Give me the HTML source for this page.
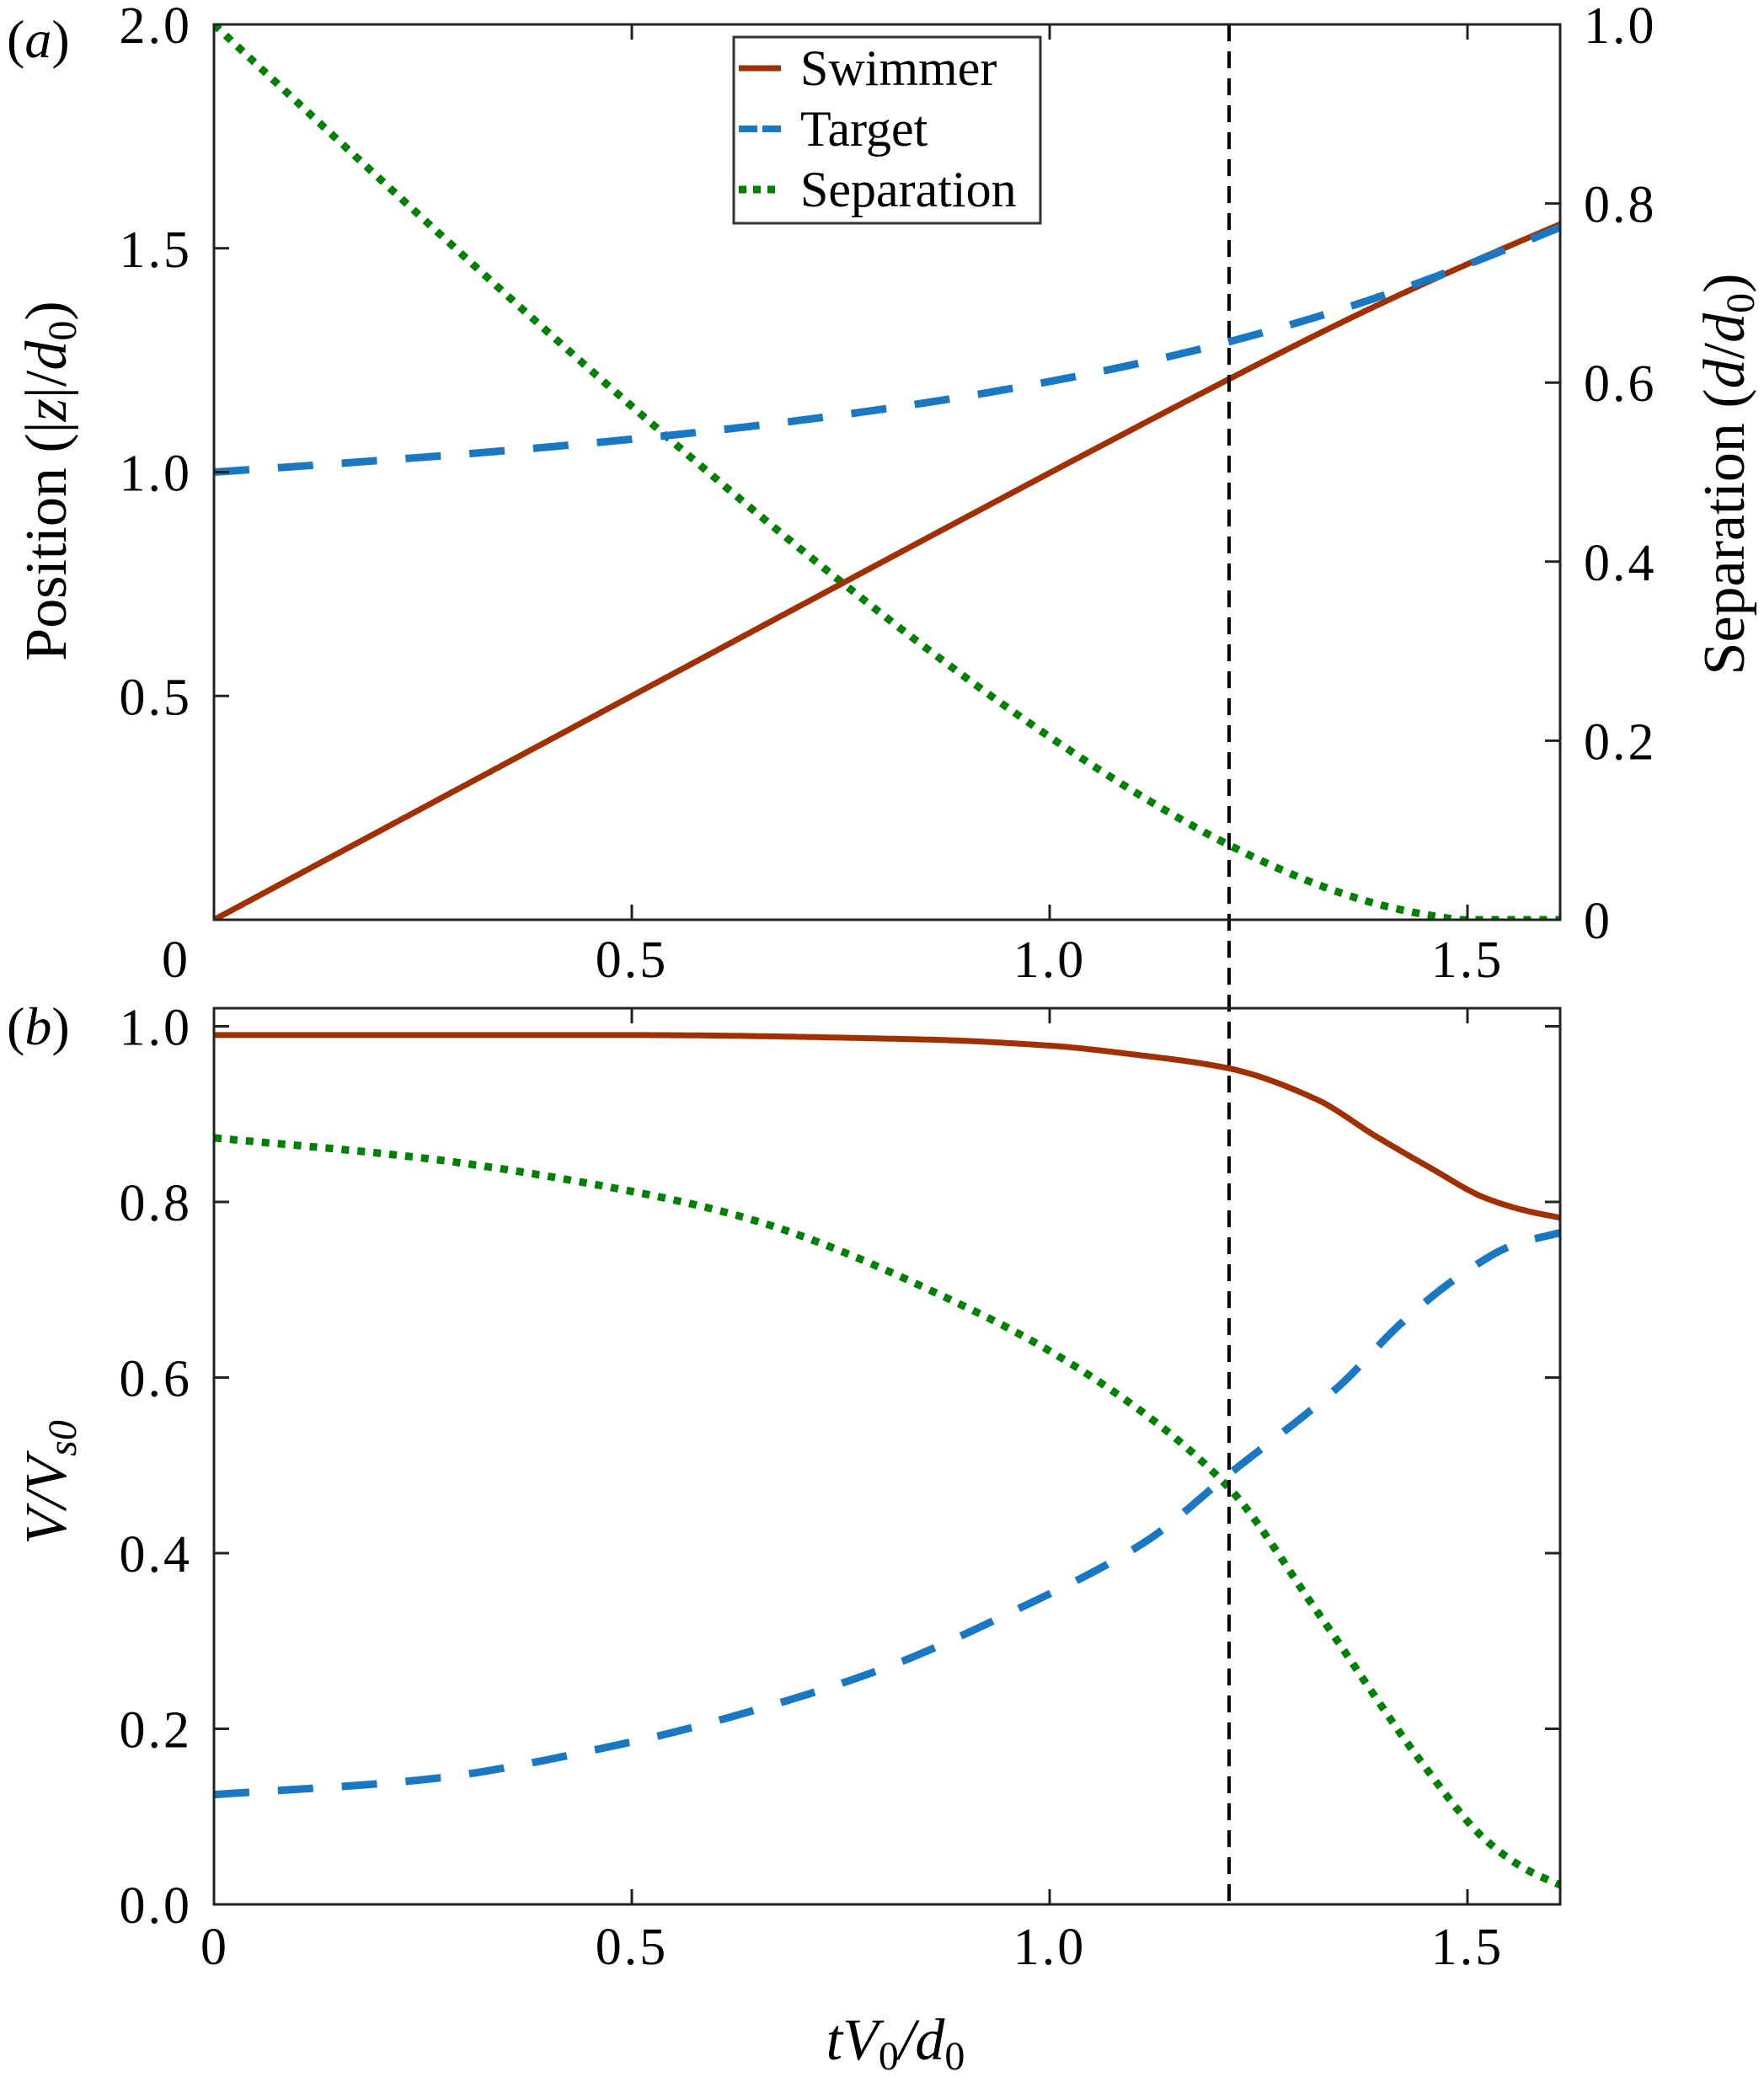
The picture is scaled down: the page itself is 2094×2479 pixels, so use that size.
<!DOCTYPE html>
<html><head><meta charset="utf-8">
<style>
html,body{margin:0;padding:0;background:#fff;}
svg{display:block;font-family:"Liberation Serif","Times New Roman",Times,serif;}
svg text{font-family:"Liberation Serif","Times New Roman",Times,serif;fill:#000;}
</style></head>
<body>
<svg id="s" width="2094" height="2479" viewBox="0 0 2094 2479" xmlns="http://www.w3.org/2000/svg" font-family="Liberation Serif, Times New Roman, serif">
<defs>
<clipPath id="ca"><rect x="254" y="29" width="1598" height="1063"/></clipPath>
<clipPath id="cb"><rect x="254" y="1197" width="1598" height="1064"/></clipPath>
</defs>
<g id="curves"></g>
<line x1="1459" y1="29" x2="1459" y2="2261" stroke="#000" stroke-width="4" stroke-dasharray="20,12"/>
<rect x="254" y="29" width="1598" height="1063" fill="none" stroke="#222" stroke-width="3"/>
<rect x="254" y="1197" width="1598" height="1064" fill="none" stroke="#222" stroke-width="3"/>
<g id="ticks" stroke="#222" stroke-width="3"></g>
<g id="labels" font-size="62" font-family="Liberation Serif, serif"></g>
<rect x="871" y="44" width="364" height="221" fill="#fff" stroke="#333" stroke-width="3"/>
<line x1="877" y1="81" x2="927" y2="81" stroke="#a03000" stroke-width="7"/>
<line x1="877" y1="153" x2="927" y2="153" stroke="#1a78c2" stroke-width="8" stroke-dasharray="22,6"/>
<line x1="877" y1="225" x2="927" y2="225" stroke="#008000" stroke-width="9" stroke-dasharray="9,8"/>
<g font-family="Liberation Serif, serif">
<text x="950" y="101" font-size="60">Swimmer</text>
<text x="950" y="173" font-size="60">Target</text>
<text x="950" y="245" font-size="60">Separation</text>
<text x="8" y="68" font-size="64">(<tspan font-style="italic">a</tspan>)</text>
<text x="8" y="1240" font-size="64">(<tspan font-style="italic">b</tspan>)</text>
<text transform="translate(78,571) rotate(-90)" text-anchor="middle" font-size="70">Position (|<tspan font-style="italic">z</tspan>|/<tspan font-style="italic">d</tspan><tspan font-size="48" dy="12">0</tspan><tspan dy="-12">)</tspan></text>
<text transform="translate(2070,563) rotate(-90)" text-anchor="middle" font-size="70">Separation (<tspan font-style="italic">d</tspan>/<tspan font-style="italic">d</tspan><tspan font-size="48" dy="12">0</tspan><tspan dy="-12">)</tspan></text>
<text transform="translate(78,1760) rotate(-90)" text-anchor="middle" font-size="70" font-style="italic">V/V<tspan font-size="48" dy="12">s0</tspan></text>
<text x="1063" y="2445" text-anchor="middle" font-size="70" font-style="italic">tV<tspan font-size="48" dy="12" font-style="normal">0</tspan><tspan dy="-12">/d</tspan><tspan font-size="48" dy="12" font-style="normal">0</tspan></text>
</g>
</svg>
<script>
(function(){
var NS="http://www.w3.org/2000/svg";
function el(tag,attrs,parent,txt){var e=document.createElementNS(NS,tag);for(var k in attrs)e.setAttribute(k,attrs[k]);if(txt!==undefined)e.textContent=txt;parent.appendChild(e);return e;}
function X(t){return 254+t*992;}
function Ya(v){return 1092-v*531.5;}
function Ys(d){return 1092-d*1063;}
function Yb(v){return 2261-v*1042.5;}
function pchip(pts){
 var n=pts.length,xs=pts.map(p=>p[0]),ys=pts.map(p=>p[1]),d=[],m=[];
 for(var i=0;i<n-1;i++)d.push((ys[i+1]-ys[i])/(xs[i+1]-xs[i]));
 m[0]=d[0];m[n-1]=d[n-2];
 for(i=1;i<n-1;i++){m[i]=(d[i-1]*d[i]<=0)?0:2/(1/d[i-1]+1/d[i]);}
 return function(x){var i=0;while(i<n-2&&x>xs[i+1])i++;var h=xs[i+1]-xs[i],t=(x-xs[i])/h;
  var h00=2*t*t*t-3*t*t+1,h10=t*t*t-2*t*t+t,h01=-2*t*t*t+3*t*t,h11=t*t*t-t*t;
  return h00*ys[i]+h10*h*m[i]+h01*ys[i+1]+h11*h*m[i+1];};
}
var vs=pchip([[0,0.99],[0.5,0.99],[0.85,0.985],[1.0,0.978],[1.1,0.968],[1.215,0.952],[1.319,0.917],[1.39,0.875],[1.457,0.838],[1.52,0.805],[1.57,0.79],[1.611,0.782]]);
var vt=pchip([[0,0.125],[0.25,0.142],[0.5,0.185],[0.65,0.222],[0.805,0.27],[0.959,0.335],[1.113,0.412],[1.216,0.491],[1.345,0.589],[1.422,0.663],[1.491,0.716],[1.555,0.751],[1.611,0.765]]);
var vg=pchip([[0,0.873],[0.25,0.85],[0.5,0.812],[0.65,0.778],[0.907,0.677],[1.061,0.594],[1.212,0.477],[1.319,0.335],[1.448,0.158],[1.52,0.075],[1.57,0.04],[1.611,0.022]]);
var N=700,T=1.611,dt=T/N,ps=0,pt=1,A1=[],A2=[],A3=[],B1=[],B2=[],B3=[];
for(var i=0;i<=N;i++){var t=i*dt;
 if(i>0){var t0=t-dt;ps+=(vs(t0)+vs(t))/2*dt/0.99;pt+=(vt(t0)+vt(t))/2*dt;}
 var sep=Math.max(0,pt-ps);
 A1.push(X(t).toFixed(1)+","+Ya(ps).toFixed(1));
 A2.push(X(t).toFixed(1)+","+Ya(pt).toFixed(1));
 A3.push(X(t).toFixed(1)+","+Ys(sep).toFixed(1));
 B1.push(X(t).toFixed(1)+","+Yb(vs(t)).toFixed(1));
 B2.push(X(t).toFixed(1)+","+Yb(vt(t)).toFixed(1));
 B3.push(X(t).toFixed(1)+","+Yb(vg(t)).toFixed(1));
}
var g=document.getElementById("curves");
var ga=el("g",{"clip-path":"url(#ca)"},g),gb=el("g",{"clip-path":"url(#cb)"},g);
el("polyline",{points:A3.join(" "),fill:"none",stroke:"#008000","stroke-width":9,"stroke-dasharray":"9,10"},ga);
el("polyline",{points:A1.join(" "),fill:"none",stroke:"#a03000","stroke-width":7},ga);
el("polyline",{points:A2.join(" "),fill:"none",stroke:"#1a78c2","stroke-width":9,"stroke-dasharray":"42,34"},ga);
el("polyline",{points:B3.join(" "),fill:"none",stroke:"#008000","stroke-width":9,"stroke-dasharray":"9,10"},gb);
el("polyline",{points:B2.join(" "),fill:"none",stroke:"#1a78c2","stroke-width":9,"stroke-dasharray":"42,34"},gb);
el("polyline",{points:B1.join(" "),fill:"none",stroke:"#a03000","stroke-width":7},gb);
var tk=document.getElementById("ticks"),L=18;
[0.5,1.0,1.5].forEach(function(t){var x=X(t);
 el("line",{x1:x,y1:29,x2:x,y2:29+L},tk);el("line",{x1:x,y1:1092,x2:x,y2:1092-L},tk);
 el("line",{x1:x,y1:1197,x2:x,y2:1197+L},tk);el("line",{x1:x,y1:2261,x2:x,y2:2261-L},tk);});
[0.5,1.0,1.5,2.0].forEach(function(v){var y=Ya(v);el("line",{x1:254,y1:y,x2:254+L,y2:y},tk);});
[0.2,0.4,0.6,0.8,1.0].forEach(function(v){var y=Ys(v);el("line",{x1:1852,y1:y,x2:1852-L,y2:y},tk);});
[0.2,0.4,0.6,0.8,1.0].forEach(function(v){var y=Yb(v);el("line",{x1:254,y1:y,x2:254+L,y2:y},tk);el("line",{x1:1852,y1:y,x2:1852-L,y2:y},tk);});
var lb=document.getElementById("labels");
function tx(x,y,s,anc){el("text",{x:x,y:y,"text-anchor":anc||"middle","letter-spacing":"3","font-family":"Liberation Serif, serif"},lb,s);}
tx(209,1160,"0");tx(X(0.5),1160,"0.5");tx(X(1.0),1160,"1.0");tx(X(1.5),1160,"1.5");
tx(255,2332,"0");tx(X(0.5),2332,"0.5");tx(X(1.0),2332,"1.0");tx(X(1.5),2332,"1.5");
[["2.0",2],["1.5",1.5],["1.0",1],["0.5",0.5]].forEach(function(a){tx(228,Ya(a[1])+22,a[0],"end");});
[["1.0",1],["0.8",0.8],["0.6",0.6],["0.4",0.4],["0.2",0.2],["0",0]].forEach(function(a){tx(1880,Ys(a[1])+22,a[0],"start");});
[["1.0",1],["0.8",0.8],["0.6",0.6],["0.4",0.4],["0.2",0.2],["0.0",0]].forEach(function(a){tx(228,Yb(a[1])+22,a[0],"end");});
})();
</script>
</body></html>
